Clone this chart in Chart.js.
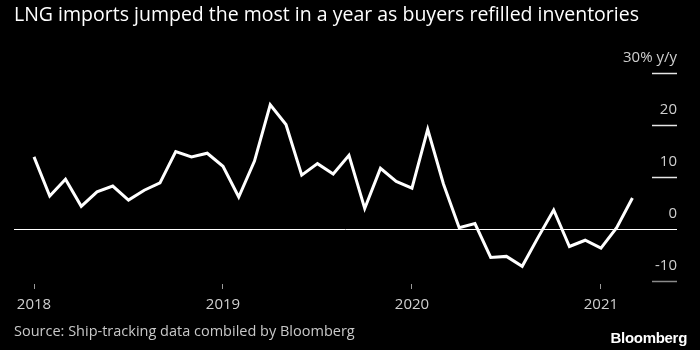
<!DOCTYPE html>
<html>
<head>
<meta charset="utf-8">
<script src="https://cdn.jsdelivr.net/npm/chart.js@4"></script>
<style>
  html, body { margin: 0; padding: 0; background: #000; }
  #wrap { position: relative; width: 700px; height: 350px; background: #000; overflow: hidden; }
  #chart { position: absolute; left: 0; top: 0; }
  .title { position: absolute; left: 14px; top: 0px; color: #fff; font: 19.5px "Open Sans", sans-serif; white-space: nowrap; }
  .source { position: absolute; left: 14px; top: 321px; color: #c8c8c8; font: 14.5px "Open Sans", sans-serif; white-space: nowrap; }
  .logo { position: absolute; right: 13px; top: 329px; color: #fff; font: bold 15px "Liberation Sans", Arial, sans-serif; letter-spacing: -0.3px; }
</style>
</head>
<body>
<div id="wrap">
  <canvas id="chart" width="700" height="350"></canvas>
  <div class="title">LNG imports jumped the most in a year as buyers refilled inventories</div>
  <div class="source">Source: Ship-tracking data combiled by Bloomberg</div>
  <div class="logo">Bloomberg</div>
</div>
<script>
// Monthly LNG imports, % change year on year
const months = [
    '2018-01', '2018-02', '2018-03', '2018-04', '2018-05', '2018-06', '2018-07', '2018-08', '2018-09', '2018-10', '2018-11', '2018-12',
    '2019-01', '2019-02', '2019-03', '2019-04', '2019-05', '2019-06', '2019-07', '2019-08', '2019-09', '2019-10', '2019-11', '2019-12',
    '2020-01', '2020-02', '2020-03', '2020-04', '2020-05', '2020-06', '2020-07', '2020-08', '2020-09', '2020-10', '2020-11', '2020-12',
    '2021-01', '2021-02', '2021-03'
];
const imports = [
    13.9, 6.4, 9.6, 4.4, 7.2, 8.3, 5.6, 7.5, 8.9, 14.9, 13.9, 14.6,
    12.1, 6.2, 13.1, 23.9, 20.1, 10.4, 12.6, 10.6, 14.2, 4.0, 11.7, 9.2,
    7.9, 19.2, 8.7, 0.3, 1.1, -5.4, -5.2, -7.1, -1.6, 3.7, -3.3, -2.1,
    -3.6, 0.3, 6.0
];
const yearLabels = ['2018', '2019', '2020', '2021'];
const yTicks = [-10, 0, 10, 20, 30];

// index of the first month of each year label
const yearStarts = yearLabels.map(y => months.indexOf(y + '-01'));

// short tick marks on the right side, like the Bloomberg style
const rightTicks = {
    id: 'rightTicks',
    afterDraw(chart) {
        const y = chart.scales.y;
        const ctx = chart.ctx;
        const right = chart.chartArea.right;
        ctx.save();
        ctx.lineWidth = 1.5;
        yTicks.forEach(v => {
            if (v === 0) return;
            const py = Math.round(y.getPixelForValue(v)) + 0.5;
            ctx.strokeStyle = v < 0 ? '#8a8a8a' : '#e6e6e6';
            ctx.beginPath();
            ctx.moveTo(right - 25, py);
            ctx.lineTo(right, py);
            ctx.stroke();
        });
        ctx.restore();
    }
};

const ctx = document.getElementById('chart').getContext('2d');
new Chart(ctx, {
    type: 'line',
    data: {
        datasets: [{
            data: imports.map((v, i) => ({ x: i, y: v })),
            borderColor: '#ffffff',
            borderWidth: 3,
            pointRadius: 0,
            tension: 0,
            fill: false
        }]
    },
    options: {
        responsive: false,
        animation: false,
        events: [],
        layout: { padding: { left: 14, right: 23, top: 73, bottom: 36 } },
        plugins: {
            legend: { display: false },
            tooltip: { enabled: false }
        },
        scales: {
            x: {
                type: 'linear',
                min: -1.27,
                max: 40.83,
                afterBuildTicks: s => { s.ticks = yearStarts.map(v => ({ value: v })); },
                afterFit: s => { s.height = 30; },
                border: { display: false },
                grid: {
                    drawOnChartArea: false,
                    drawTicks: true,
                    tickLength: 5,
                    color: '#9a9a9a',
                    lineWidth: 1
                },
                ticks: {
                    color: '#cfcfcf',
                    font: { family: 'Open Sans', size: 15 },
                    padding: 7,
                    maxRotation: 0,
                    callback: v => yearLabels[yearStarts.indexOf(v)]
                }
            },
            y: {
                position: 'right',
                min: -10.5,
                max: 30,
                afterBuildTicks: s => { s.ticks = yTicks.map(v => ({ value: v })); },
                afterFit: s => { s.width = 0; },
                border: { display: false },
                grid: {
                    drawTicks: false,
                    color: c => (c.tick && c.tick.value === 0) ? '#ffffff' : 'rgba(0,0,0,0)',
                    lineWidth: 1
                },
                ticks: {
                    mirror: true,
                    padding: 0,
                    labelOffset: -15.5,
                    color: '#cfcfcf',
                    font: { family: 'Open Sans', size: 15 },
                    callback: v => v === 30 ? '30% y/y' : String(v)
                }
            }
        }
    },
    plugins: [rightTicks]
});
</script>
</body>
</html>
